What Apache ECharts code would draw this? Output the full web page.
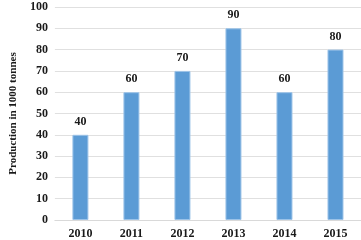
<!DOCTYPE html>
<html><head><meta charset="utf-8">
<script src="https://cdn.jsdelivr.net/npm/echarts@6/dist/echarts.min.js"></script>
<style>html,body{margin:0;padding:0;background:#fff}#c{width:361px;height:240px}</style>
</head><body><div id="c"></div>
<script>
const years = ['2010','2011','2012','2013','2014','2015'];
const production = [40, 60, 70, 90, 60, 80];
const yTicks = {min:0, max:100, interval:10};
const axisTitle = 'Production in 1000 tonnes';

const font = 'Liberation Serif';
const chart = echarts.init(document.getElementById('c'), null, {renderer:'canvas'});
chart.setOption({
  animation:false,
  grid:{left:52, top:7, width:311, height:213, containLabel:false},
  xAxis:{type:'category', data:years,
    axisLine:{show:true, lineStyle:{color:'#d9d9d9'}}, axisTick:{show:false},
    axisLabel:{fontFamily:font, fontWeight:'bold', fontSize:12, color:'#1a1a1a', margin:8}},
  yAxis:{type:'value', min:yTicks.min, max:yTicks.max, interval:yTicks.interval,
    name:axisTitle, nameLocation:'middle', nameGap:29,
    nameTextStyle:{fontFamily:font, fontWeight:'bold', fontSize:11, color:'#1a1a1a'},
    axisLine:{show:false}, axisTick:{show:false},
    axisLabel:{fontFamily:font, fontWeight:'bold', fontSize:12, color:'#1a1a1a', margin:7},
    splitLine:{lineStyle:{color:'#e0e0e0', width:1}}},
  series:[{type:'bar', data:production, barWidth:16,
    itemStyle:{color:'#5B9BD5', borderColor:'#9cc3e8', borderWidth:1},
    label:{show:true, position:'top', distance:7, fontFamily:font, fontWeight:'bold', fontSize:12, color:'#1a1a1a'}}]
});
</script></body></html>
